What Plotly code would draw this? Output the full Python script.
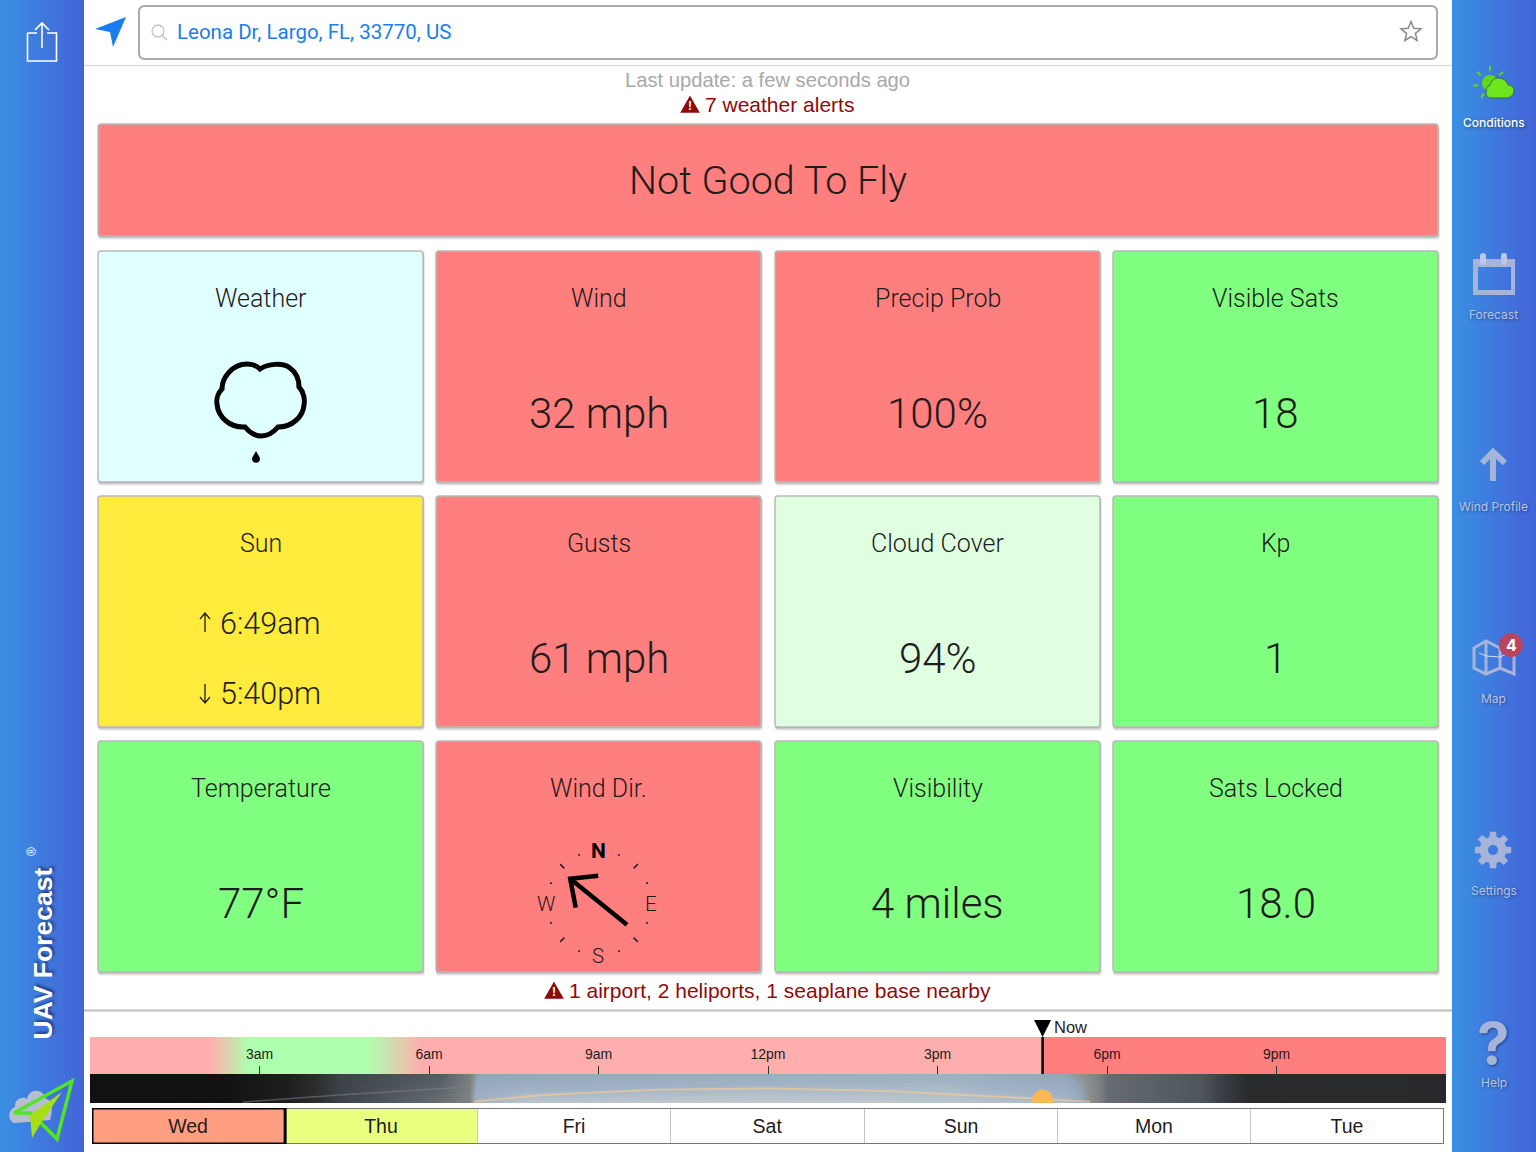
import numpy as np
import plotly.graph_objects as go

W, H = 1536, 1152

# tiles
tile_titles = ["Weather", "Wind", "Precip Prob", "Visible Sats",
               "Sun", "Gusts", "Cloud Cover", "Kp",
               "Temperature", "Wind Dir.", "Visibility", "Sats Locked"]
tile_values = ["", "32 mph", "100%", "18",
               "", "61 mph", "94%", "1",
               "77°F", "", "4 miles", "18.0"]
RED, GREEN = "#ff7f7f", "#80ff80"
tile_colors = ["#e0ffff", RED, RED, GREEN,
               "#ffeb3b", RED, "#e0ffe0", GREEN,
               GREEN, RED, GREEN, GREEN]
tile_left = [98, 436, 775, 1113]
tile_top = [251, 496, 741]
sunrise, sunset = "6:49am", "5:40pm"
wind_dir = 309

# timeline
tick_hours = [3, 6, 9, 12, 15, 18, 21]
tick_labels = ["3am", "6am", "9am", "12pm", "3pm", "6pm", "9pm"]
now_hour = 16.86
status_hours = [0, 2.15, 2.8, 4.9, 5.85, 16.85, 16.87, 24]
status_vals = [1, 1, 0, 0, 1, 1, 2, 2]
light_hours = [0, 2.3, 3.5, 3.95, 4.4, 6.2, 6.7, 6.85, 7.7, 12, 15.2, 17.3, 17.7, 18, 19.7, 20.5, 24]
light_upper = [0, 0, .1, .18, .3, .38, .5, .68, .7, .78, .82, .68, .58, .44, .36, .18, .17]
light_lower = [0, 0, .1, .18, .3, .45, .52, .85, .97, 1, .97, .9, .6, .44, .36, .18, .17]
sun_hours = [6.8, 8, 10, 12, 14, 15.2, 16.86, 17.7]
sun_alt = [.05, .28, .46, .5, .42, .31, .14, .04]
moon_hours = [2.7, 4.4, 6.7]
moon_alt = [.03, .28, .55]
sun_now = 0.1

days = ["Wed", "Thu", "Fri", "Sat", "Sun", "Mon", "Tue"]
day_colors = ["#ff9e80", "#e8ff80", "#ffffff", "#ffffff", "#ffffff", "#ffffff", "#ffffff"]

INK = "#1f1c1c"
ALERT = "#8f0a0a"
ICON = "#a5b4d8"
SIDE = [[0, "#3a8fe3"], [1, "#4364d8"]]
SOFT = "1px 1px 3px rgba(0,0,40,0.45)"
TILE_WEIGHT = 350

shapes = []
annos = []


def text(x, y, s, size, color=INK, font="Roboto", **kw):
    annos.append(dict(x=x, y=y, text=s, showarrow=False, xref="x", yref="y",
                      font=dict(size=size, color=color, family=font, **kw.pop("fontkw", {})),
                      xanchor=kw.pop("xanchor", "center"), yanchor="middle", **kw))


def path(d, fill=None, line=None, width=1, layer="above"):
    shapes.append(dict(type="path", path=d, xref="x", yref="y", layer=layer,
                       fillcolor=fill or "rgba(0,0,0,0)",
                       line=dict(color=line or "rgba(0,0,0,0)", width=width if line else 0)))


def rrect(x0, y0, x1, y1, r):
    return (f"M{x0+r},{y0} H{x1-r} Q{x1},{y0} {x1},{y0+r} V{y1-r} Q{x1},{y1} {x1-r},{y1} "
            f"H{x0+r} Q{x0},{y1} {x0},{y1-r} V{y0+r} Q{x0},{y0} {x0+r},{y0} Z")


def circle(cx, cy, r):
    # arcs get their radii remapped on data axes, so use beziers
    k = r * .5523
    return (f"M{cx-r},{cy} C{cx-r},{cy-k} {cx-k},{cy-r} {cx},{cy-r} C{cx+k},{cy-r} {cx+r},{cy-k} {cx+r},{cy} "
            f"C{cx+r},{cy+k} {cx+k},{cy+r} {cx},{cy+r} C{cx-k},{cy+r} {cx-r},{cy+k} {cx-r},{cy} Z")


def hour_px(h):
    return 90 + h * 1356 / 24


def card(x0, y0, x1, y1, color):
    for off, a in [(4, .05), (3, .07), (2, .1), (1, .14)]:
        path(rrect(x0, y0 + off / 2, x1 + off / 2, y1 + off, 3), fill=f"rgba(0,0,0,{a})")
    path(rrect(x0, y0, x1, y1, 3), fill=color, line="#b9b9b9", width=1.5)


def alert_icon(cx, cy):
    path(f"M{cx},{cy-8} L{cx+8.5},{cy+7} H{cx-8.5} Z", fill=ALERT, line=ALERT, width=1.5)
    text(cx, cy + 1, "!", 12, color="white", font="Liberation Sans", fontkw=dict(weight="bold"))


# top bar
path("M84,65.5 H1452", line="#dddddd", width=1.5)
path(rrect(139, 6, 1437, 59, 6), fill="white", line="#aaaaaa", width=2)
path("M95,29 L126,17 L113,47 L110,32 Z", fill="#1a7df0")
path(circle(158, 31, 6), line="#c4c4c4", width=1.3)
path("M162.5,35.5 L167,40", line="#c4c4c4", width=1.5)
star = []
for i in range(10):
    r = 10.5 if i % 2 == 0 else 4.6
    a = np.pi * i / 5
    star.append(f"{1411 + r*np.sin(a):.1f},{32 - r*np.cos(a):.1f}")
path("M" + " L".join(star) + " Z", line="#888888", width=1.5)
text(175, 32, "Leona Dr, Largo, FL, 33770, US", 20.5, color="#1a7df0", xanchor="left")
text(767.5, 79.5, "Last update: a few seconds ago", 20.2, color="#a8a8a8", font="Liberation Sans")
alert_icon(690, 105)
text(779, 104.5, "7 weather alerts", 21, color=ALERT, font="Liberation Sans")

# verdict banner
card(98, 124, 1438, 236, RED)
text(768, 180, "Not Good To Fly", 39.5, fontkw=dict(weight=TILE_WEIGHT))

# tile grid
for i, title in enumerate(tile_titles):
    x0, y0 = tile_left[i % 4], tile_top[i // 4]
    card(x0, y0, x0 + 325, y0 + 231, tile_colors[i])
    cx = x0 + 162.5
    text(cx, y0 + 47, title, 25, fontkw=dict(weight=TILE_WEIGHT))
    if tile_values[i]:
        text(cx, y0 + 162, tile_values[i], 42, fontkw=dict(weight=TILE_WEIGHT))

# weather glyph
path("M260,369 C268,364 282,362 290,368 C297,373 299,380 299,387 C304,392 305,400 304,405 "
     "C303,417 292,427 278,427 C273,433 267,436 261,436 C255,436 250,433 245,427 "
     "C230,428 218,417 217,404 C216,398 219,392 222,389 C222,378 232,364 247,364 "
     "C252,364 257,366 260,369 Z", line="black", width=5)
path("M256,451 C258,455 260,457 260,459 C260,464 252,464 252,459 C252,457 254,455 256,451 Z", fill="black")

# sun times
text(270, 623, sunrise, 30.5, fontkw=dict(weight=TILE_WEIGHT))
text(270, 693, sunset, 30.5, fontkw=dict(weight=TILE_WEIGHT))
path("M205,632 V613 M200,619 L205,613 L210,619", line=INK, width=1.3)
path("M205,684 V703 M200,697 L205,703 L210,697", line=INK, width=1.3)

# compass
ccx, ccy = 599, 903
for deg in [22.5, 45, 67.5, 112.5, 135, 157.5, 202.5, 225, 247.5, 292.5, 315, 337.5]:
    a = np.radians(deg)
    r0 = 49 if deg % 45 == 0 else 51
    r1 = 55 if deg % 45 == 0 else 53
    path(f"M{ccx + r0*np.sin(a):.1f},{ccy - r0*np.cos(a):.1f} L{ccx + r1*np.sin(a):.1f},{ccy - r1*np.cos(a):.1f}",
         line="#222222", width=1.5)
text(598, 851, "N", 21, color="black", fontkw=dict(weight="bold"))
text(598, 956, "S", 20.5, fontkw=dict(weight=TILE_WEIGHT))
text(651, 904, "E", 20.5, fontkw=dict(weight=TILE_WEIGHT))
text(546, 904, "W", 20.5, fontkw=dict(weight=TILE_WEIGHT))
a = np.radians(wind_dir)
tipx, tipy = ccx + 37 * np.sin(a), ccy - 37 * np.cos(a) - 1
tailx, taily = ccx - 36 * np.sin(a), ccy + 36 * np.cos(a) - 1
path(f"M{tailx:.1f},{taily:.1f} L{tipx:.1f},{tipy:.1f}", line="black", width=4.5)
path(f"M{tipx+5.5:.1f},{tipy+29:.1f} L{tipx:.1f},{tipy:.1f} L{tipx+28:.1f},{tipy-3:.1f}", line="black", width=4.5)

# airport note and divider
alert_icon(554, 991)
text(780, 990.5, "1 airport, 2 heliports, 1 seaplane base nearby", 21, color=ALERT, font="Liberation Sans")
path("M84,1010.5 H1452", line="#bdbdbd", width=2)

# left rail
path("M27.5,33 H37 M47,33 H56.5 V61 H27.5 V33", line="white", width=1.6)
path("M42,48 V24 M35,30 L42,23 L49,30", line="white", width=1.6)
annos.append(dict(x=42.5, y=954, text="UAV Forecast", textangle=-90, showarrow=False, xref="x", yref="y",
                  font=dict(size=26.5, color="white", family="Liberation Sans", weight="bold",
                            shadow="2px 2px 3px rgba(0,0,40,0.5)")))
annos.append(dict(x=32, y=852, text="®", textangle=-90, showarrow=False, xref="x", yref="y",
                  font=dict(size=12, color="white", family="Liberation Sans")))
path("M15,1123 C8,1122 7,1110 15,1107 C14,1098 24,1096 27,1099 C29,1088 43,1088 46,1099 "
     "C53,1100 53,1112 50,1120 Z", fill="#b6bfcf")
path("M72,1081 L14,1113 L30,1113 L41,1123 L57,1139 Z", line="#52e428", width=3.5)
path("M30,1115 L62,1092 L41,1123 L32,1138 Z", fill="#a6e014")

# right rail icons
path(circle(1490, 83, 8), fill="#5fd816")
for deg in [-100, -50, 0, 50, -150]:
    a = np.radians(deg)
    path(f"M{1490 + 12*np.sin(a):.1f},{83 - 12*np.cos(a):.1f} L{1490 + 17*np.sin(a):.1f},{83 - 17*np.cos(a):.1f}",
         line="#5fd816", width=2)
path("M1491,98 H1506 C1511,98 1514,94 1514,91 C1514,87 1511,85 1508,85 C1507,81 1503,78 1498,78 "
     "C1494,78 1491,81 1490,85 C1487,86 1486,89 1486,92 C1486,96 1488,98 1491,98 Z",
     fill="#6fe41c", line="#2f6f4a", width=1)
path("M1473,259 H1515 V295 H1473 Z M1478,267 V290 H1511 V267 Z", fill=ICON)
path(rrect(1480, 253, 1486, 265, 3), fill="#bcc8e4")
path(rrect(1501, 253, 1507, 265, 3), fill="#bcc8e4")
path("M1493,481 V452 M1482,463 L1493,452 L1505,463", line=ICON, width=6)
path("M1474,648 L1486,641 L1500,648 L1514,641 V674 L1500,668 L1486,674 L1474,668 Z "
     "M1486,641 V674 M1500,648 V668", line=ICON, width=3)
path("M1479,653 L1486,656 L1500,657 L1509,653", line="#d8e0f0", width=1)
path(circle(1511, 645, 12), fill="#b8455f")
teeth = []
for i in range(8):
    for da, r in [(-.27, 13.5), (-.17, 18.5), (.17, 18.5), (.27, 13.5)]:
        a = i * np.pi / 4 + da
        teeth.append(f"{1493 + r*np.sin(a):.1f},{850 - r*np.cos(a):.1f}")
path("M" + " L".join(teeth) + " Z", fill=ICON)
path(circle(1493, 850, 5), fill="#3f79dd")
text(1511, 645, "4", 16, color="white", font="Inter", fontkw=dict(weight="bold"))
text(1493, 1043, "?", 58, color=ICON, font="Inter", fontkw=dict(weight="bold", shadow=SOFT))

nav_labels = ["Conditions", "Forecast", "Wind Profile", "Map", "Settings", "Help"]
nav_y = [122, 314, 506, 698, 890, 1082]
for label, y in zip(nav_labels, nav_y):
    on = label == "Conditions"
    text(1493.5, y, label, 12, color="white" if on else "#b7c5e6", font="Inter",
         fontkw=dict(weight=500 if on else "normal", shadow=SOFT))

# now marker
now_px = hour_px(now_hour)
path(f"M{now_px-8.5},1020 H{now_px+8.5} L{now_px},1037 Z", fill="black")

fig = go.Figure()

# rail gradients on the pixel axes
for x0 in [0, 1452]:
    fig.add_trace(go.Heatmap(x=np.arange(x0, x0 + 85), y=[0, H], z=[np.linspace(0, 1, 84)],
                             colorscale=SIDE, showscale=False, hoverinfo="skip", xaxis="x", yaxis="y"))

# condition strip
fig.add_trace(go.Heatmap(x=status_hours, y=[0, 1], z=[status_vals, status_vals], zmin=0, zmax=2, showscale=False,
                         zsmooth="best", colorscale=[[0, "#aeffae"], [.5, "#ffaeae"], [1, "#ff7f7f"]],
                         hoverinfo="skip", xaxis="x2", yaxis="y2"))
fig.add_trace(go.Scatter(x=[now_hour, now_hour], y=[0, 1], mode="lines", line=dict(color="black", width=2.5),
                         hoverinfo="skip", xaxis="x2", yaxis="y2", cliponaxis=False))

# daylight strip
fig.add_trace(go.Heatmap(x=light_hours, y=[0, 1], z=[light_lower, light_upper], zmin=0, zmax=1, showscale=False,
                         zsmooth="best",
                         colorscale=[[0, "#111111"], [.1, "#1e1e1e"], [.2, "#2d2e30"], [.3, "#3c4248"],
                                     [.4, "#596068"], [.5, "#7a7e80"], [.6, "#8d8d8d"], [.7, "#94a6bc"],
                                     [.85, "#a2b2c6"], [1, "#c2cbcf"]],
                         hoverinfo="skip", xaxis="x4", yaxis="y4"))
fig.add_trace(go.Scatter(x=moon_hours, y=moon_alt, mode="lines", line=dict(color="rgba(125,130,140,0.55)", width=1.5),
                         hoverinfo="skip", xaxis="x4", yaxis="y4"))
fig.add_trace(go.Scatter(x=sun_hours, y=sun_alt, mode="lines", line=dict(color="rgba(250,205,140,0.6)", width=2),
                         hoverinfo="skip", xaxis="x4", yaxis="y4"))
fig.add_trace(go.Scatter(x=[now_hour], y=[sun_now], mode="markers", marker=dict(size=21, color="#fbb954"),
                         hoverinfo="skip", xaxis="x4", yaxis="y4"))

# day picker
fig.add_trace(go.Bar(x=days, y=[1] * 7, width=1, marker=dict(color=day_colors, line=dict(color="#c4c4c4", width=1)),
                     text=days, textposition="inside", insidetextanchor="middle", textangle=0,
                     textfont=dict(size=19.5, color=INK, family="Liberation Sans"), constraintext="none",
                     hoverinfo="skip", xaxis="x3", yaxis="y3"))
shapes.append(dict(type="rect", xref="x3", yref="y3", x0=-.5, x1=6.5, y0=0, y1=1, layer="above",
                   line=dict(color="#777777", width=2)))
shapes.append(dict(type="rect", xref="x3", yref="y3", x0=-.5, x1=.5, y0=0, y1=1, layer="above",
                   line=dict(color="black", width=3)))

annos.append(dict(x=now_hour + .16, y=1027, xref="x2", yref="y", text="Now", showarrow=False, xanchor="left",
                  font=dict(size=16.5, color=INK, family="Liberation Sans")))


def ydom(top, bottom):
    return [1 - bottom / H, 1 - top / H]


hidden = dict(visible=False, fixedrange=True)
fig.update_layout(
    width=W, height=H, margin=dict(l=0, r=0, t=0, b=0), paper_bgcolor="white", plot_bgcolor="rgba(0,0,0,0)",
    showlegend=False, bargap=0, shapes=shapes, annotations=annos,
    xaxis=dict(range=[0, W], domain=[0, 1], **hidden),
    yaxis=dict(range=[H, 0], domain=[0, 1], **hidden),
    xaxis2=dict(range=[0, 24], domain=[90 / W, 1446 / W], anchor="y2", showgrid=False, zeroline=False,
                tickvals=tick_hours, ticktext=tick_labels, ticks="inside", ticklen=8, tickcolor="#333333", tickwidth=1,
                ticklabelposition="inside", ticklabelstandoff=4, showline=False,
                tickfont=dict(size=14, color=INK, family="Liberation Sans"), fixedrange=True),
    yaxis2=dict(range=[0, 1], domain=ydom(1037, 1074), anchor="x2", **hidden),
    xaxis4=dict(range=[0, 24], domain=[90 / W, 1446 / W], anchor="y4", **hidden),
    yaxis4=dict(range=[0, 1], domain=ydom(1074, 1103), anchor="x4", **hidden),
    xaxis3=dict(domain=[92 / W, 1444 / W], anchor="y3", range=[-.5, 6.5], type="category", categoryorder="array",
                categoryarray=days, **hidden),
    yaxis3=dict(range=[0, 1], domain=ydom(1108, 1144), anchor="x3", **hidden),
)

fig.write_html("out.html", config=dict(displayModeBar=False),
               post_script="document.body.style.margin='0';document.body.style.overflow='hidden';")
